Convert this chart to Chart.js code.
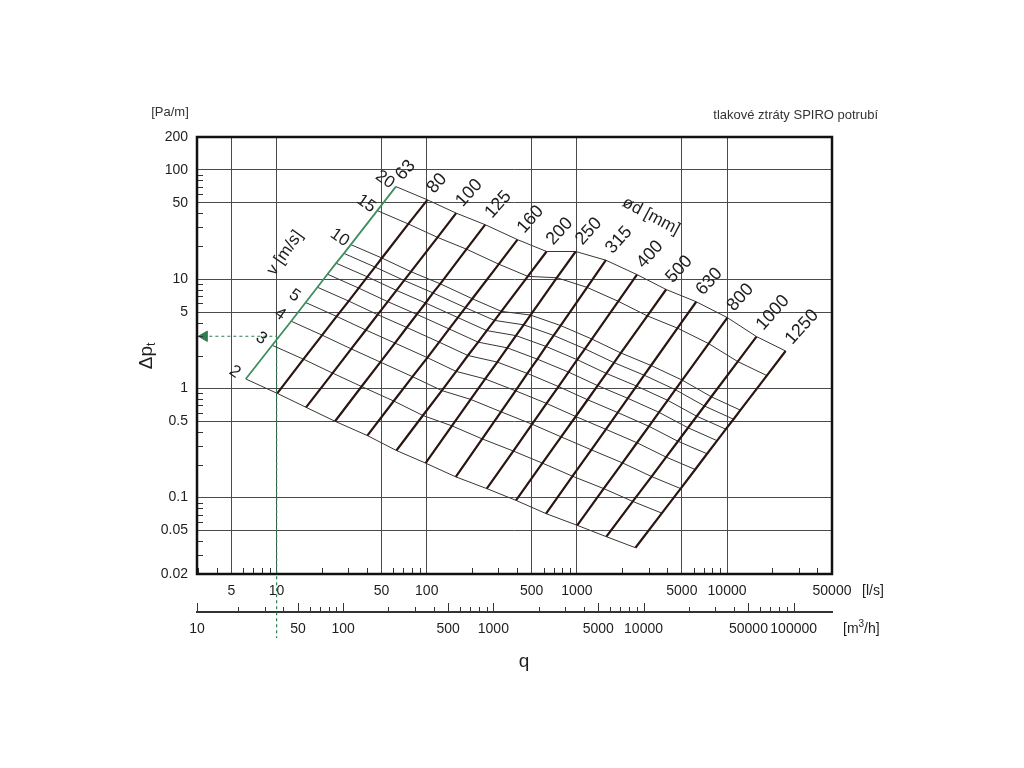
<!DOCTYPE html>
<html>
<head>
<meta charset="utf-8">
<script src="https://cdn.jsdelivr.net/npm/chart.js@4/dist/chart.umd.min.js"></script>
<style>
html,body{margin:0;padding:0;background:#fff;}
#wrap{width:1024px;height:768px;}
</style>
</head>
<body>
<div id="wrap"><canvas id="c" width="1024" height="768"></canvas></div>
<script>
// ---------------- data ----------------
const diameters  = [63, 80, 100, 125, 160, 200, 250, 315, 400, 500, 630, 800, 1000, 1250]; // mm
const velocities = [2, 3, 4, 5, 6, 7, 8, 9, 10, 15, 20];                                   // m/s
const velocityLabels = [2, 3, 4, 5, 10, 15, 20];

// flow q [l/s] and pressure loss [Pa/m] at each velocity node, per diameter
const q63   = [6.23, 9.35, 12.5, 15.6, 18.7, 21.8, 24.9, 28.1, 31.2, 46.8, 62.3];
const dp63  = [1.22, 2.48, 4.12, 6.11, 8.43, 11.1, 14.0, 17.2, 20.7, 42.4, 70.3];
const q80   = [10.1, 15.1, 20.1, 25.1, 30.2, 35.2, 40.2, 45.2, 50.3, 75.4, 101];
const dp80  = [0.90, 1.85, 3.07, 4.56, 6.30, 8.28, 10.5, 12.9, 15.6, 32.0, 53.2];
const q100  = [15.7, 23.6, 31.4, 39.3, 47.1, 55.0, 62.8, 70.7, 78.5, 118, 157];
const dp100 = [0.671, 1.38, 2.30, 3.42, 4.73, 6.22, 7.89, 9.73, 11.7, 24.1, 40.2];
const q125  = [24.5, 36.8, 49.1, 61.4, 73.6, 85.9, 98.2, 110, 123, 184, 245];
const dp125 = [0.500, 1.04, 1.74, 2.60, 3.61, 4.76, 6.05, 7.48, 9.06, 18.8, 31.5];
const q160  = [40.2, 60.3, 80.4, 101, 121, 141, 161, 181, 201, 302, 402];
const dp160 = [0.370, 0.766, 1.28, 1.91, 2.65, 3.50, 4.45, 5.48, 6.62, 13.7, 23.0];
const q200  = [62.8, 94.2, 126, 157, 188, 220, 251, 283, 314, 471, 628];
const dp200 = [0.270, 0.565, 0.955, 1.43, 2.00, 2.65, 3.38, 4.19, 5.07, 10.6, 17.9];
const q250  = [98.2, 147, 196, 245, 295, 344, 393, 442, 491, 736, 982];
const dp250 = [0.207, 0.454, 0.793, 1.22, 1.74, 2.35, 3.04, 3.82, 4.69, 10.3, 17.9];
const q315  = [156, 234, 312, 390, 468, 546, 623, 701, 779, 1169, 1559];
const dp315 = [0.155, 0.345, 0.611, 0.951, 1.37, 1.85, 2.42, 3.05, 3.76, 8.40, 14.9];
const q400  = [251, 377, 503, 628, 754, 880, 1005, 1131, 1257, 1885, 2513];
const dp400 = [0.121, 0.267, 0.470, 0.728, 1.04, 1.41, 1.83, 2.30, 2.83, 6.27, 11.0];
const q500  = [393, 589, 785, 982, 1178, 1374, 1571, 1767, 1963, 2945, 3927];
const dp500 = [0.0944, 0.207, 0.360, 0.553, 0.787, 1.06, 1.37, 1.72, 2.11, 4.61, 8.04];
const q630  = [623, 935, 1247, 1559, 1870, 2182, 2494, 2806, 3117, 4676, 6234];
const dp630 = [0.0714, 0.157, 0.274, 0.422, 0.601, 0.811, 1.05, 1.32, 1.62, 3.56, 6.21];
const q800  = [1005, 1508, 2011, 2513, 3016, 3519, 4021, 4524, 5027, 7540, 10053];
const dp800 = [0.0558, 0.121, 0.208, 0.318, 0.450, 0.604, 0.778, 0.973, 1.19, 2.57, 4.44];
const q1000 = [1571, 2356, 3142, 3927, 4712, 5498, 6283, 7069, 7854, 11781, 15708];
const dp1000= [0.0439, 0.0923, 0.156, 0.235, 0.328, 0.436, 0.556, 0.690, 0.838, 1.76, 2.98];
const q1250 = [2454, 3682, 4909, 6136, 7363, 8590, 9817, 11045, 12272, 18408, 24544];
const dp1250= [0.0348, 0.0721, 0.121, 0.181, 0.252, 0.332, 0.423, 0.522, 0.632, 1.31, 2.20];

// worked example (dashed): q = 10 l/s on the 63 mm duct -> about 3 Pa/m
const exampleFlow = 10;
const exampleLoss = 3.0;
const arrowFlow = 3.3;
const dashEndLoss = 0.0052;

// axes
const lsTicks  = [5, 10, 50, 100, 500, 1000, 5000, 10000, 50000];
const m3hTicks = [10, 50, 100, 500, 1000, 5000, 10000, 50000, 100000];
const paTicks  = [0.02, 0.05, 0.1, 0.5, 1, 5, 10, 50, 100, 200];
const lsMinor  = [3,4,6,7,8,9,20,30,40,60,70,80,90,200,300,400,600,700,800,900,
                  2000,3000,4000,6000,7000,8000,9000,20000,30000,40000];
const m3hMinor = [20,30,40,60,70,80,90,200,300,400,600,700,800,900,2000,3000,4000,6000,7000,8000,9000,
                  20000,30000,40000,60000,70000,80000,90000];
const paMinor  = [0.03,0.04,0.06,0.07,0.08,0.09,0.2,0.3,0.4,0.6,0.7,0.8,0.9,2,3,4,6,7,8,9,20,30,40,60,70,80,90];
const LS_MIN = 2.95, LS_MAX = 50000, M3H_PER_LS = 3.6;

// ---------------- build datasets ----------------
const flowRows = [q63,q80,q100,q125,q160,q200,q250,q315,q400,q500,q630,q800,q1000,q1250];
const lossRows = [dp63,dp80,dp100,dp125,dp160,dp200,dp250,dp315,dp400,dp500,dp630,dp800,dp1000,dp1250];

const datasets = [];
velocities.forEach((v, i) => {
  datasets.push({
    label: v + ' m/s',
    data: diameters.map((d, j) => ({x: flowRows[j][i], y: lossRows[j][i]})),
    showLine: true, borderColor: '#363636', borderWidth: 1, pointRadius: 0, order: 3
  });
});
diameters.forEach((d, j) => {
  datasets.push({
    label: 'ø' + d,
    data: flowRows[j].map((q, i) => ({x: q, y: lossRows[j][i]})),
    showLine: true,
    borderColor: d === 63 ? '#3d8f5f' : '#2a1511',
    borderWidth: d === 63 ? 1.8 : 2.2,
    pointRadius: 0, order: 2
  });
});
const dashColor = '#2f7d50';
datasets.push({
  label: 'example-v',
  data: [{x: exampleFlow, y: exampleLoss}, {x: exampleFlow, y: dashEndLoss}],
  showLine: true, borderColor: dashColor, borderWidth: 1.2, borderDash: [3, 3], pointRadius: 0, clip: false, order: 1
});
datasets.push({
  label: 'example-h',
  data: [{x: arrowFlow * 1.08, y: exampleLoss}, {x: exampleFlow, y: exampleLoss}],
  showLine: true, borderColor: dashColor, borderWidth: 1.2, borderDash: [3, 3], pointRadius: 0, order: 1
});
datasets.push({
  label: 'arrow',
  data: [{x: arrowFlow, y: exampleLoss}],
  showLine: false, pointStyle: 'triangle', rotation: -90, pointRadius: 6,
  backgroundColor: dashColor, borderColor: dashColor, borderWidth: 1, clip: false, order: 0
});

// ---------------- decorations plugin ----------------
const FONT = '"Liberation Sans", Arial, Helvetica, sans-serif';
function rotText(ctx, txt, x, y, deg, font, align) {
  ctx.save();
  ctx.translate(x, y);
  ctx.rotate(deg * Math.PI / 180);
  ctx.font = font;
  ctx.textAlign = align || 'center';
  ctx.textBaseline = 'middle';
  ctx.fillText(txt, 0, 0);
  ctx.restore();
}
const decor = {
  id: 'decor',
  afterDraw(chart) {
    const {ctx, chartArea: a} = chart;
    const x = chart.scales.x, x2 = chart.scales.x2, y = chart.scales.y;
    ctx.save();
    // minor ticks
    ctx.strokeStyle = '#333';
    ctx.lineWidth = 1;
    ctx.beginPath();
    paMinor.forEach(v => { const py = Math.round(y.getPixelForValue(v)) + 0.5; ctx.moveTo(a.left, py); ctx.lineTo(a.left + 6, py); });
    lsMinor.forEach(v => { const px = Math.round(x.getPixelForValue(v)) + 0.5; ctx.moveTo(px, a.bottom); ctx.lineTo(px, a.bottom - 6); });
    const ay = x2.top;
    m3hMinor.forEach(v => { const px = Math.round(x2.getPixelForValue(v)) + 0.5; ctx.moveTo(px, ay); ctx.lineTo(px, ay - 5); });
    m3hTicks.forEach(v => { const px = Math.round(x2.getPixelForValue(Math.max(v, x2.min))) + 0.5; ctx.moveTo(px, ay); ctx.lineTo(px, ay - 9); });
    ctx.stroke();
    // frame
    ctx.lineWidth = 2.5;
    ctx.strokeStyle = '#111';
    ctx.strokeRect(a.left, a.top, a.right - a.left, a.bottom - a.top);

    ctx.fillStyle = '#1e1e1e';
    // diameter labels at the upper end of each diameter line
    diameters.forEach((d, j) => {
      const px = x.getPixelForValue(flowRows[j][10]);
      const py = y.getPixelForValue(lossRows[j][10]);
      rotText(ctx, String(d), px + 3, py - 9, -48, '18px ' + FONT, 'left');
    });
    // velocity labels along the 63 mm line
    velocityLabels.forEach(v => {
      const i = velocities.indexOf(v);
      const px = x.getPixelForValue(q63[i]);
      const py = y.getPixelForValue(dp63[i]);
      rotText(ctx, String(v), px - 11, py - 7, 35, '17px ' + FONT, 'center');
    });
    rotText(ctx, 'v [m/s]', 285, 253, -55, '17px ' + FONT, 'center');
    rotText(ctx, 'ød [mm]', 651, 216, 28, '17px ' + FONT, 'center');

    // texts
    ctx.fillStyle = '#333';
    ctx.font = '13px ' + FONT;
    ctx.textBaseline = 'middle';
    ctx.textAlign = 'right';
    ctx.fillText('tlakové ztráty SPIRO potrubí', 878, 115);
    ctx.textAlign = 'center';
    ctx.fillText('[Pa/m]', 170, 112);
    ctx.fillStyle = '#1e1e1e';
    ctx.font = '14px ' + FONT;
    ctx.textAlign = 'left';
    ctx.fillText('[l/s]', 862, 591);
    ctx.fillText('[m', 843, 629);
    let w = ctx.measureText('[m').width;
    ctx.font = '10px ' + FONT;
    ctx.fillText('3', 843 + w, 624);
    let w2 = ctx.measureText('3').width;
    ctx.font = '14px ' + FONT;
    ctx.fillText('/h]', 843 + w + w2, 629);
    ctx.font = '19px ' + FONT;
    ctx.textAlign = 'center';
    ctx.fillText('q', 524, 662);
    // y title  Δp_t
    ctx.save();
    ctx.translate(147, 356);
    ctx.rotate(-Math.PI / 2);
    ctx.font = '19px ' + FONT;
    const wd = ctx.measureText('Δp').width;
    ctx.font = '12px ' + FONT;
    const wt = ctx.measureText('t').width;
    const start = -(wd + wt) / 2;
    ctx.textAlign = 'left';
    ctx.font = '19px ' + FONT;
    ctx.fillText('Δp', start, 0);
    ctx.font = '12px ' + FONT;
    ctx.fillText('t', start + wd, 5);
    ctx.restore();
    ctx.restore();
  }
};

// ---------------- chart ----------------
const tickFont = {family: FONT, size: 14};
new Chart(document.getElementById('c'), {
  type: 'scatter',
  data: {datasets},
  options: {
    responsive: false,
    animation: false,
    devicePixelRatio: 1,
    events: [],
    layout: {padding: {left: 0, right: 192, top: 137, bottom: 0}},
    plugins: {legend: {display: false}, tooltip: {enabled: false}},
    elements: {point: {radius: 0}, line: {tension: 0}},
    scales: {
      x: {
        type: 'logarithmic', position: 'bottom', weight: 0,
        min: LS_MIN, max: LS_MAX, bounds: 'data',
        afterBuildTicks: s => { s.ticks = lsTicks.map(v => ({value: v})); },
        afterFit: s => { s.height = 38; },
        ticks: {autoSkip: false, maxRotation: 0, padding: 9, font: tickFont, color: '#1e1e1e',
                callback: (v) => String(v)},
        grid: {color: '#4a4a4a', lineWidth: 1, drawTicks: false},
        border: {display: false}
      },
      x2: {
        type: 'logarithmic', position: 'bottom', weight: 1,
        min: LS_MIN * M3H_PER_LS, max: LS_MAX * M3H_PER_LS, bounds: 'data',
        afterBuildTicks: s => { s.ticks = m3hTicks.map(v => ({value: Math.max(v, s.min)})); },
        afterFit: s => { s.height = 156; },
        ticks: {autoSkip: false, maxRotation: 0, padding: 9, font: tickFont, color: '#1e1e1e',
                callback: (v, i) => String(m3hTicks[i])},
        grid: {display: false, drawTicks: false},
        border: {display: true, color: '#333', width: 2}
      },
      y: {
        type: 'logarithmic', position: 'left',
        min: 0.02, max: 200, bounds: 'data',
        afterBuildTicks: s => { s.ticks = paTicks.map(v => ({value: v})); },
        afterFit: s => { s.width = 197; },
        ticks: {autoSkip: false, padding: 9, font: tickFont, color: '#1e1e1e',
                callback: (v) => String(v)},
        grid: {color: '#4a4a4a', lineWidth: 1, drawTicks: false},
        border: {display: false}
      }
    }
  },
  plugins: [decor]
});
</script>
</body>
</html>
